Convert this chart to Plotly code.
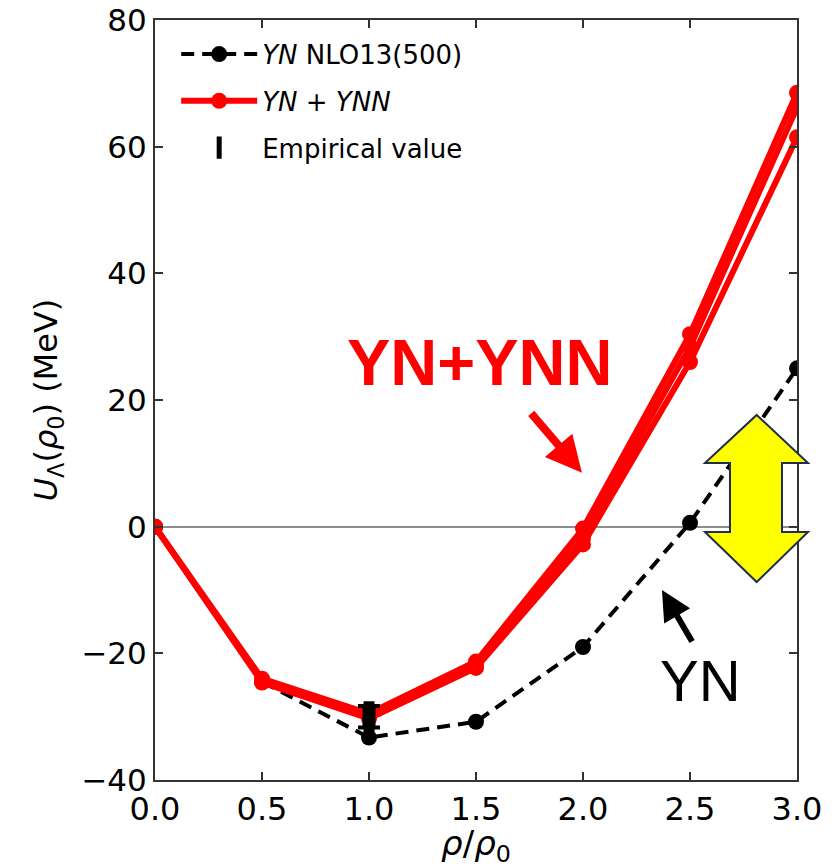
import plotly.graph_objects as go

# ---- data ----
rho = [0.0, 0.5, 1.0, 1.5, 2.0, 2.5, 3.0]
yn_nlo13 = [0.0, -24.5, -33.3, -30.8, -19.0, 0.6, 25.0]
ynn_a = [0.0, -24.0, -29.5, -21.3, -0.3, 30.4, 68.5]
ynn_b = [0.0, -24.3, -30.0, -21.8, -1.8, 28.4, 66.2]
ynn_c = [0.0, -24.6, -30.3, -22.3, -2.8, 26.0, 61.5]
emp_x = [1.0]
emp_y = [-30.0]
emp_err = [1.7]
x_ticks = [0.0, 0.5, 1.0, 1.5, 2.0, 2.5, 3.0]
y_ticks = [-40, -20, 0, 20, 40, 60, 80]

RED = "#ff0000"
fig = go.Figure()

fig.add_trace(go.Scatter(
    x=rho, y=yn_nlo13, mode="lines+markers",
    name="<i>YN</i> NLO13(500)",
    line=dict(color="black", width=4, dash="13px,8px"),
    marker=dict(color="black", size=16),
))
for i, ys in enumerate([ynn_c, ynn_b, ynn_a]):
    fig.add_trace(go.Scatter(
        x=rho, y=ys, mode="lines+markers",
        name="<i>YN</i> + <i>YNN</i>",
        legendgroup="ynn", showlegend=(i == 0),
        line=dict(color=RED, width=6),
        marker=dict(color=RED, size=16),
    ))
# empirical value: thick body + thin caps
fig.add_trace(go.Scatter(
    x=emp_x, y=emp_y, mode="markers", showlegend=False, hoverinfo="skip",
    marker=dict(size=1, color="rgba(0,0,0,0)"),
    error_y=dict(type="data", array=emp_err, visible=True,
                 color="black", thickness=13, width=0),
))
fig.add_trace(go.Scatter(
    x=emp_x, y=emp_y, mode="markers", name="Empirical value",
    marker=dict(symbol="line-ns", size=22, color="black",
                line=dict(color="black", width=11)),
    error_y=dict(type="data", array=emp_err, visible=True,
                 color="black", thickness=4, width=11),
))

# yellow double arrow (decoration, paper coords)
pts = [(0.9372, 0.4803), (1.0171, 0.4171), (0.9766, 0.4171), (0.9766, 0.3263),
       (1.0171, 0.3263), (0.9372, 0.2605), (0.8567, 0.3263), (0.8956, 0.3263),
       (0.8956, 0.4171), (0.8567, 0.4171)]
path = "M " + " L ".join(f"{px},{py}" for px, py in pts) + " Z"
fig.add_shape(type="path", xref="paper", yref="paper", path=path,
              fillcolor="#ffff00", line=dict(color="#1f2d4f", width=2),
              layer="above")

fig.add_annotation(x=1.52, y=26, xref="x", yref="y", text="<b>YN+YNN</b>",
                   showarrow=False,
                   font=dict(family="Liberation Sans", size=65, color=RED))
fig.add_annotation(x=2.55, y=-24.3, xref="x", yref="y", text="YN",
                   showarrow=False,
                   font=dict(family="Liberation Sans", size=58, color="black"))
fig.add_annotation(x=1.995, y=8.5, xref="x", yref="y", text="",
                   showarrow=True, ax=-52, ay=-61, arrowhead=2, arrowsize=0.9,
                   arrowwidth=8, arrowcolor=RED)
fig.add_annotation(x=2.369, y=-10, xref="x", yref="y", text="",
                   showarrow=True, ax=31, ay=53, arrowhead=2, arrowsize=1.0,
                   arrowwidth=6, arrowcolor="black")

axis_common = dict(showline=True, linecolor="#333333", linewidth=2, mirror="ticks",
                   ticks="inside", ticklen=8, tickwidth=1.5, tickcolor="#333333",
                   showgrid=False)
fig.update_xaxes(range=[0, 3], tickvals=x_ticks, tickformat=".1f", zeroline=False,
                 tickfont=dict(family="DejaVu Sans", size=32, color="black"),
                 title=dict(text="<i>ρ</i>/<i>ρ</i><sub>0</sub>", standoff=13,
                            font=dict(family="DejaVu Sans", size=34, color="black")),
                 **axis_common)
fig.update_yaxes(range=[-40, 80], tickvals=y_ticks, zeroline=True,
                 zerolinecolor="#8c8c8c", zerolinewidth=2,
                 tickfont=dict(family="DejaVu Sans", size=31, color="black"),
                 title=dict(text="<i>U</i><sub>Λ</sub>(<i>ρ</i><sub>0</sub>) (MeV)", standoff=14,
                            font=dict(family="DejaVu Sans", size=32, color="black")),
                 **axis_common)

fig.update_layout(
    width=838, height=868,
    margin=dict(l=155, r=41, t=20, b=88, autoexpand=False),
    paper_bgcolor="white", plot_bgcolor="white",
    showlegend=True,
    legend=dict(x=0.033, y=0.986, xanchor="left", yanchor="top",
                bgcolor="rgba(0,0,0,0)", itemwidth=76,
                font=dict(family="DejaVu Sans", size=26, color="black")),
)

fig.write_html("out.html", config={"displayModeBar": False},
               post_script="document.body.style.margin='0px';document.body.style.overflow='hidden';")
